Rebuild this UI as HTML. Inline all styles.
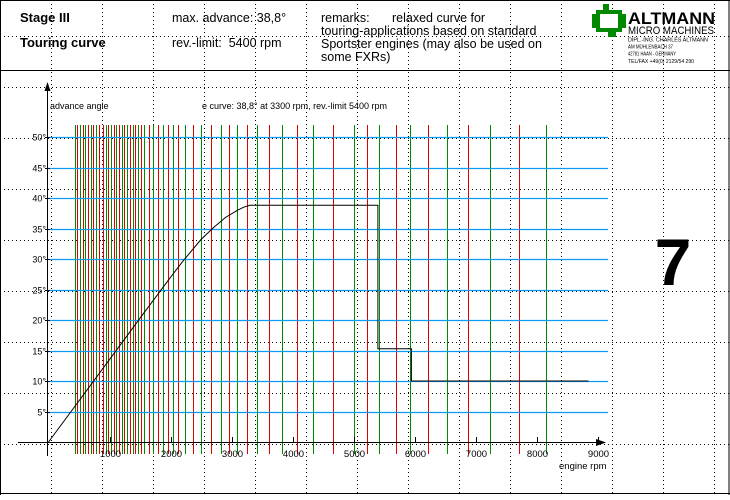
<!DOCTYPE html>
<html><head><meta charset="utf-8">
<style>
html,body{margin:0;padding:0;background:#fff;}
body{width:730px;height:495px;overflow:hidden;font-family:"Liberation Sans",sans-serif;}
svg text{font-family:"Liberation Sans",sans-serif;white-space:pre;}
</style></head>
<body>
<svg id="chart" width="730" height="495" xmlns="http://www.w3.org/2000/svg">
<g id="dots"></g>
<g>
 <line x1="0" y1="0.5" x2="730" y2="0.5" stroke="#000"/>
 <line x1="0.5" y1="0" x2="0.5" y2="495" stroke="#000"/>
 <line x1="729" y1="0" x2="729" y2="495" stroke="#000"/>
 <line x1="0" y1="70.5" x2="730" y2="70.5" stroke="#000"/>
 <line x1="0" y1="493.5" x2="730" y2="493.5" stroke="#000"/>
 <text x="20" y="22" font-size="13" font-weight="bold">Stage III</text>
 <text x="20" y="47" font-size="13" font-weight="bold">Touring curve</text>
 <text x="172" y="22" font-size="12.5">max. advance: 38,8°</text>
 <text x="172" y="47" font-size="12.5" xml:space="preserve">rev.-limit:  5400 rpm</text>
 <text x="321" y="22" font-size="12.5">remarks:</text>
 <text font-size="12.5">
  <tspan x="392" y="22">relaxed curve for</tspan>
  <tspan x="321" y="35">touring-applications based on standard</tspan>
  <tspan x="321" y="48">Sportster engines (may also be used on</tspan>
  <tspan x="321" y="61">some FXRs)</tspan>
 </text>
 <g>
  <rect x="598" y="12" width="22" height="18" fill="#fff" stroke="#080" stroke-width="4"/>
  <rect x="592" y="14" width="6" height="14" fill="#080"/>
  <rect x="620" y="14" width="6" height="14" fill="#080"/>
  <rect x="603" y="4" width="6" height="8" fill="#080"/>
  <rect x="608" y="30" width="8" height="7" fill="#080"/>
  <text x="628" y="24" font-size="17" font-weight="bold" textLength="87" lengthAdjust="spacingAndGlyphs">ALTMANN</text>
  <text x="628" y="34" font-size="11" textLength="86" lengthAdjust="spacingAndGlyphs">MICRO MACHINES</text>
  <text x="628" y="41.5" font-size="5" textLength="80" lengthAdjust="spacingAndGlyphs">DIPL.-ING. CHARLES ALTMANN</text>
  <text x="628" y="48.5" font-size="5" textLength="45" lengthAdjust="spacingAndGlyphs">AM MÜHLENBACH 37</text>
  <text x="628" y="55.5" font-size="5" textLength="48" lengthAdjust="spacingAndGlyphs">42781 HAAN - GERMANY</text>
  <text x="628" y="63" font-size="5" textLength="66" lengthAdjust="spacingAndGlyphs">TEL/FAX +49(0) 2129/54 290</text>
 </g>
</g>
<g id="vlines"></g>
<g id="hlines"></g>
<g id="axes"></g>
<path id="curve" fill="none" stroke="#000" stroke-width="1"/>
<text x="50" y="109" font-size="9">advance angle</text>
<text x="202" y="109" font-size="9">e curve: 38,8° at 3300 rpm, rev.-limit 5400 rpm</text>
<text x="559" y="469" font-size="9.5">engine rpm</text>
<text x="673" y="285" font-size="66" font-weight="bold" text-anchor="middle">7</text>
</svg>
<script>
const curveRpm=[0,1000,1500,2000,2200,2500,2700,2900,3100,3200,3300,5400,5400,5950,5950,8850];
const curveDeg=[0,13.5,20.3,27,29.6,33.2,35.1,36.8,38.0,38.5,38.8,38.8,15.3,15.3,10,10];
const markerRpm=[434,467,516,566,598,648,697,730,779,828,893,943,975,1025,1074,1107,1156,1205,1238,1287,1336,1385,1418,1467,1516,1566,1648,1713,1795,1877,1959,2041,2123,2238,2369,2500,2664,2828,2959,3090,3254,3418,3615,3828,4074,4336,4664,5008,5221,5418,5689,5934,6226,6525,6882,7243,7705,8161];
const markerColor=["g","r","g","r","g","r","g","r","g","r","r","g","r","g","r","g","r","g","r","g","r","g","r","g","r","g","r","g","r","g","r","g","r","g","r","g","r","g","r","g","r","g","r","g","r","g","r","g","r","g","r","g","r","g","r","g","r","g"];
const xTicks=[1000,2000,3000,4000,5000,6000,7000,8000,9000];
const yTicks=[5,10,15,20,25,30,35,40,45,50];
const yTickLabels=["5°","10°","15°","20°","25°","30°","35°","40°","45°","50°"];

const NS="http://www.w3.org/2000/svg";
const X=r=>48.5+r*0.061;
const Y=d=>442-d*6.1;
function mk(tag,parent,attrs){const e=document.createElementNS(NS,tag);for(const k in attrs)e.setAttribute(k,attrs[k]);parent.appendChild(e);return e;}

const dots=document.getElementById('dots');
for(let x=51;x<730;x+=51){const l=mk('line',dots,{x1:x+.5,y1:0,x2:x+.5,y2:495,stroke:'#000','stroke-dasharray':'1 3'});

}
for(let y=36;y<495;y+=51){const l=mk('line',dots,{x1:0,y1:y+.5,x2:730,y2:y+.5,stroke:'#000','stroke-dasharray':'1 3'});

}

const vl=document.getElementById('vlines');
markerRpm.forEach((r,i)=>{const x=Math.round(X(r))+.5;
const l=mk('line',vl,{x1:x,y1:125,x2:x,y2:454,stroke:markerColor[i]==='r'?'#e00000':'#008a00','stroke-width':1});

});

const hl=document.getElementById('hlines');
yTicks.forEach((d,i)=>{const y=Math.round(Y(d))+.5;
const l=mk('line',hl,{x1:47,y1:y,x2:608,y2:y,stroke:'#0a9cf0','stroke-width':1.3});


const t=mk('text',hl,{x:46,y:y+3,'font-size':9,'text-anchor':'end'});t.textContent=yTickLabels[i];

});

const ax=document.getElementById('axes');
mk('line',ax,{x1:18,y1:442.5,x2:598,y2:442.5,stroke:'#000'});
mk('path',ax,{d:'M606 442.5 L596 439 L596 446 Z',fill:'#000'});
mk('line',ax,{x1:47.5,y1:88,x2:47.5,y2:456,stroke:'#000'});
mk('path',ax,{d:'M47.5 82 L44.5 91 L50.5 91 Z',fill:'#000'});
xTicks.forEach(r=>{const x=Math.round(X(r))+.5;
mk('line',ax,{x1:x,y1:437,x2:x,y2:442,stroke:'#000'});
const t=mk('text',ax,{x:x,y:457,'font-size':9.5,'text-anchor':'middle'});t.textContent=String(r);

});
yTicks.forEach(d=>{const y=Math.round(Y(d))+.5;mk('line',ax,{x1:45,y1:y,x2:50,y2:y,stroke:'#000'});});

document.getElementById('curve').setAttribute('d',curveRpm.map((r,i)=>(i?'L':'M')+X(r).toFixed(1)+' '+Y(curveDeg[i]).toFixed(1)).join(' '));
</script>
</body></html>
